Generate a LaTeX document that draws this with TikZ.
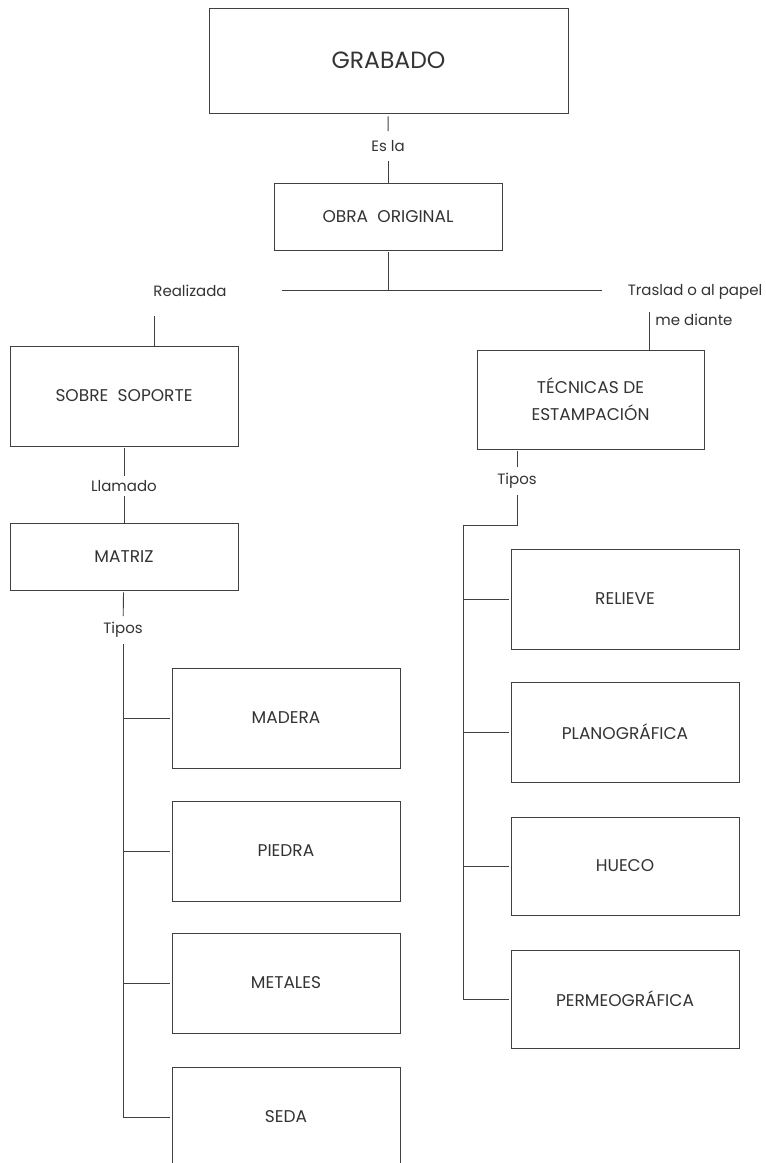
\documentclass[tikz,border=0pt]{standalone}
\usepackage{fontspec}
\setmainfont{Poppins}
\begin{document}
\begin{tikzpicture}[x=1pt,y=-1pt,
  every node/.style={text=black!80},
  box/.style={draw=black!75, line width=0.9pt, rectangle, minimum width=228pt, minimum height=100pt, inner sep=0pt, font=\fontsize{17}{27}\selectfont, align=center},
  lbl/.style={inner xsep=3pt, inner ysep=6pt, font=\fontsize{15}{18}\selectfont, align=center},
  conn/.style={draw=black!75, line width=0.9pt}]
\useasboundingbox (0,0) rectangle (766,1163);
\clip (0,0) rectangle (766,1163);
% boxes
\node[box, minimum width=359pt, minimum height=105pt, font=\fontsize{23.5}{28}\selectfont] (grabado) at (388.5,60.5) {GRABADO};
\node[box, minimum height=67pt] (obra) at (388,216.5) {OBRA\hspace{0.55em}ORIGINAL};
\node[box] (sobre) at (124,396) {SOBRE\hspace{0.55em}SOPORTE};
\node[box, minimum height=67pt] (matriz) at (124,556.5) {MATRIZ};
\node[box] (madera) at (286,718) {MADERA};
\node[box] (piedra) at (286,851) {PIEDRA};
\node[box] (metales) at (286,983) {METALES};
\node[box] (seda) at (286,1117) {SEDA};
\node[box, minimum width=227pt, minimum height=99pt] (tecnicas) at (590.5,399.5) {TÉCNICAS DE\\ESTAMPACIÓN};
\node[box] (relieve) at (625,599) {RELIEVE};
\node[box] (plano) at (625,732) {PLANOGRÁFICA};
\node[box, minimum height=98pt] (hueco) at (625,866) {HUECO};
\node[box, minimum height=98pt] (perm) at (625,999) {PERMEOGRÁFICA};
% labels
\node[lbl, inner ysep=9pt] (esla) at (388,146) {Es la};
\node[lbl] (realizada) at (190,291) {Realizada};
\node[lbl, inner sep=0pt] (traslado) at (695,292) {Traslad o al papel};
\node[lbl, inner sep=0pt] (mediante) at (694,320) {me diante};
\node[lbl, inner ysep=4pt] (llamado) at (124,486) {Llamado};
\node[lbl] (tiposL) at (123,630) {Tipos};
\node[lbl] (tiposR) at (517,481) {Tipos};
% coordinates
\coordinate (hl) at (282,290);
\coordinate (hr) at (602,290);
\coordinate (s1) at (154,316);
\coordinate (t1) at (649,312);
\coordinate (rc) at (463,525);
% connectors
\draw[conn, shorten <=3pt] (grabado) -- (esla);
\draw[conn] (esla) -- (obra);
\draw[conn, shorten <=2pt] (obra.south) -- (obra.south |- hl);
\draw[conn] (hl) -- (hr);
\draw[conn] (s1) -- (s1 |- sobre.north);
\draw[conn] (t1) -- (t1 |- tecnicas.north);
\draw[conn, shorten <=2pt] (sobre) -- (llamado);
\draw[conn] (llamado) -- (matriz);
\draw[conn, shorten <=2pt] (matriz) -- (tiposL);
\draw[conn, shorten >=2pt] (tiposL.south) -- (tiposL.south |- seda.west) -- (seda.west);
\draw[conn, shorten >=2pt] (tiposL.south |- madera.west) -- (madera.west);
\draw[conn, shorten >=2pt] (tiposL.south |- piedra.west) -- (piedra.west);
\draw[conn, shorten >=2pt] (tiposL.south |- metales.west) -- (metales.west);
\draw[conn, shorten <=2pt] (tecnicas.south -| tiposR) -- (tiposR);
\draw[conn, shorten >=2pt] (tiposR.south) |- (rc) -- (rc |- perm.west) -- (perm.west);
\draw[conn, shorten >=2pt] (rc |- relieve.west) -- (relieve.west);
\draw[conn, shorten >=2pt] (rc |- plano.west) -- (plano.west);
\draw[conn, shorten >=2pt] (rc |- hueco.west) -- (hueco.west);
\end{tikzpicture}
\end{document}
